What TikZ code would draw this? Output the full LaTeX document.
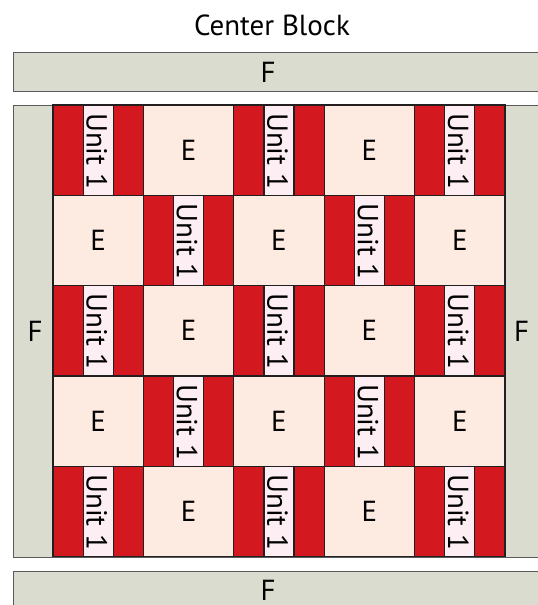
\documentclass[tikz,border=0pt]{standalone}
\usepackage{fontspec}
\setmainfont{PT Sans}
\definecolor{qred}{HTML}{D3191F}
\definecolor{qpink}{HTML}{FDEEF4}
\definecolor{qbeige}{HTML}{FDEBE1}
\definecolor{qgray}{HTML}{DADCCF}
\definecolor{qedge}{HTML}{231F20}
\definecolor{qgedge}{HTML}{5A5A5A}
\tikzset{
  lbl/.style={font=\fontsize{29}{34}\selectfont, inner sep=0pt},
  fbar/.style={draw=qgedge, line width=1.3pt, fill=qgray, inner sep=0pt, anchor=north west},
  ecell/.style={draw=qedge, line width=1.2pt, fill=qbeige, inner sep=0pt, minimum width=90.4pt, minimum height=90.3pt, font=\fontsize{29}{34}\selectfont},
  ucell/.style={draw=qedge, line width=1.2pt, fill=qred, inner sep=0pt, minimum width=90.4pt, minimum height=90.3pt},
  ustrip/.style={draw=qedge, line width=1.2pt, fill=qpink, inner sep=0pt, minimum width=30.1pt, minimum height=90.3pt},
  utext/.style={inner sep=0pt, rotate=-90, font=\fontsize{29}{34}\selectfont},
}
\begin{document}
\begin{tikzpicture}[x=1pt,y=-1pt]
\useasboundingbox (0,0) rectangle (538,605);
\clip (0,0) rectangle (538,605);
\node[lbl] (title) at (272,25) {Center Block};
% top F bar
\node[fbar, minimum width=540pt, minimum height=39pt] (ftop) at (13,52) {};
\node[lbl] (ftoplbl) at (268,72) {F};
% main gray background
\node[fbar, minimum width=540pt, minimum height=452pt] (fmain) at (13,105) {};
\node[lbl] (fleft) at (35,331) {F};
\node[lbl] (fright) at (521.5,331) {F};
% bottom F bar
\node[fbar, minimum width=540pt, minimum height=39pt] (fbot) at (13,571) {};
\node[lbl] (fbotlbl) at (268,590.5) {F};
% grid
\foreach \r in {0,...,4}{
  \foreach \c in {0,...,4}{
    \pgfmathsetmacro\cx{53+90.4*(\c+0.5)}
    \pgfmathsetmacro\cy{105+90.3*(\r+0.5)}
    \pgfmathtruncatemacro\p{mod(\r+\c,2)}
    \ifnum\p=0
      \node[ucell] (u\r\c) at (\cx,\cy) {};
      \node[ustrip] (s\r\c) at (\cx,\cy) {};
      \node[utext] (t\r\c) at ([xshift=-1.5pt,yshift=-1pt]s\r\c.center) {Unit 1};
    \else
      \node[ecell] (e\r\c) at (\cx,\cy) {E};
    \fi
  }
}
\end{tikzpicture}
\end{document}
